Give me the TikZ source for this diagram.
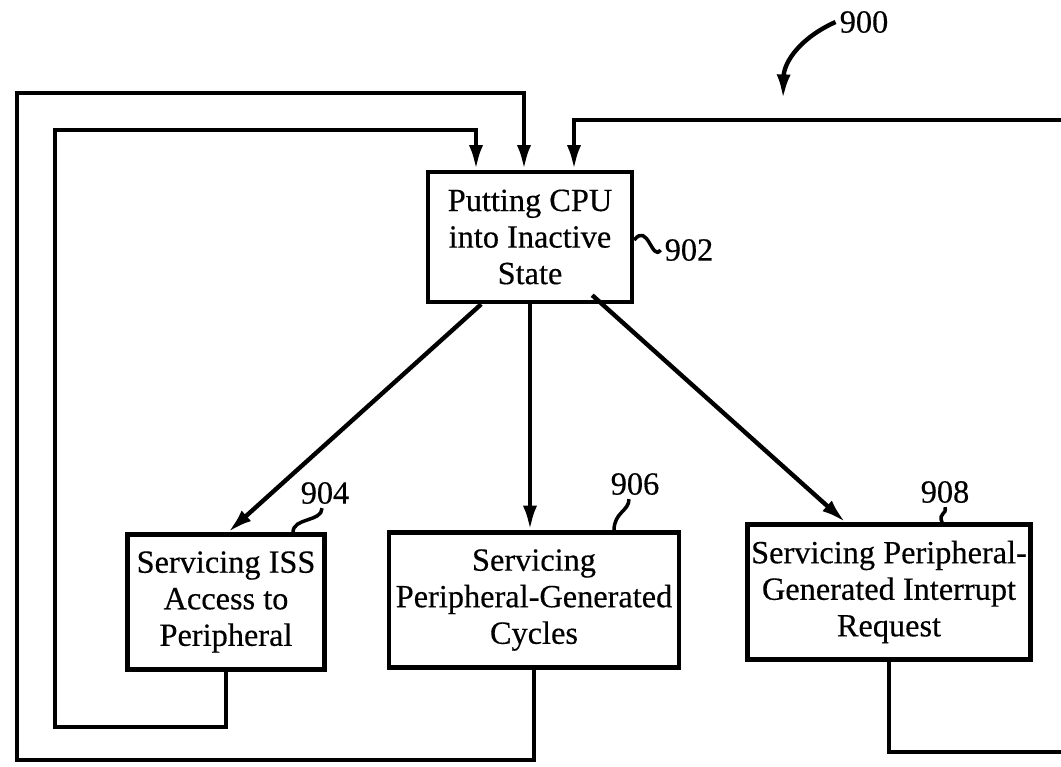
\documentclass[tikz,border=0pt]{standalone}
\usepackage{fontspec}
\setmainfont{Liberation Serif}[BoldFont={Liberation Serif},BoldFeatures={FakeBold=0.4}]
\usetikzlibrary{arrows.meta,calc}
\tikzset{
  blk/.style={draw,line width=1.25pt,align=center,inner sep=1pt,minimum height=13.5mm},
  lbl/.style={inner sep=1pt},
  flow/.style={line width=1.25pt,-{Latex[length=7pt,width=4pt]}},
  squig/.style={line width=1pt}
}
\begin{document}
\begin{tikzpicture}[x=0.1mm,y=-0.1mm,font=\fontsize{9.2}{10.4}\selectfont\bfseries]
          \useasboundingbox (0,0) rectangle (1061,766);
          
          \node[blk,minimum width=20.4mm,minimum height=13mm] (inact) at (530,237) {Putting CPU\\into Inactive\\State};
          \node[blk,minimum width=19.7mm] (iss) at (226,602) {Servicing ISS\\Access to\\Peripheral};
          \node[blk,minimum width=29mm] (cyc) at (534,600) {Servicing\\Peripheral-Generated\\Cycles};
          \node[blk,minimum width=28mm] (irq) at (889,592) {Servicing Peripheral-\\Generated Interrupt\\Request};
          
          \draw[flow] (inact.234) -- ($(iss.north)+(2,0)$);
          \draw[flow] (inact.south) -- (inact.south |- cyc.north);
          \draw[flow] ($(inact.south east)+(-42,-9)$) -- ($(irq.north west)+(100,0)$);
          
          % return paths
          \draw[flow] (iss.south) -- ++(0,55) -| (55,130) -| ($(inact.north)+(-54,0)$);
          \draw[flow] (cyc.south) -- ++(0,90) -| (17,93) -| ($(inact.north)+(-6,0)$);
          \draw[flow] (irq.south) -- ++(0,90) -| (1066,120) -| ($(inact.north)+(44,0)$);
          
          \node[lbl] (n900) at (864,22) {900};
          \coordinate (p900) at (783,99);
          \draw[flow] (n900.west) .. controls (800,38) and (784,62) .. (p900);
          \node[lbl] (n902) at (689,250) {902};
          \draw[squig] ($(inact.east)+(0,3)$) .. controls (648,222) and (652,262) .. (n902.west);
          \node[lbl] (n904) at (325,493) {904};
          \draw[squig] ($(iss.north)+(67,0)$) .. controls +(0,-15) and +(0,14) .. ($(n904.south)+(-3,0)$);
          \node[lbl] (n906) at (635,484) {906};
          \draw[squig] ($(cyc.north)+(80,0)$) .. controls +(0,-18) and +(0,12) .. ($(n906.south)+(-6,0)$);
          \node[lbl] (n908) at (945,492) {908};
          \draw[squig] ($(irq.north)+(53,0)$) .. controls +(-4,-10) and +(2,8) .. (n908.south);
        \end{tikzpicture}
\end{document}
